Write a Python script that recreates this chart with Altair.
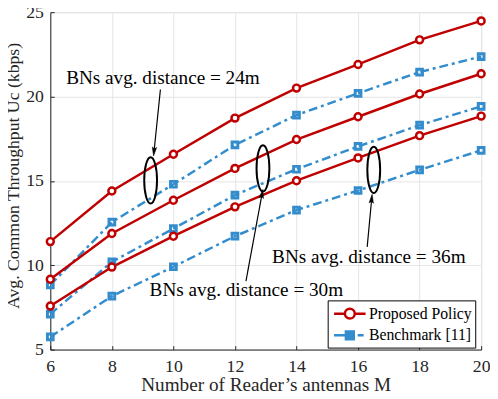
import altair as alt
import pandas as pd

# ---------------- data ----------------
M = [6, 8, 10, 12, 14, 16, 18, 20]
distances = ["24m", "30m", "36m"]
proposed_24 = [11.4, 14.4, 16.58, 18.72, 20.5, 21.9, 23.36, 24.48]
proposed_30 = [9.17, 11.88, 13.85, 15.74, 17.45, 18.8, 20.15, 21.35]
proposed_36 = [7.58, 9.89, 11.72, 13.46, 15.01, 16.36, 17.68, 18.84]
bench_24 = [8.83, 12.55, 14.8, 17.13, 18.9, 20.19, 21.45, 22.37]
bench_30 = [7.1, 10.2, 12.17, 14.16, 15.69, 17.04, 18.3, 19.42]
bench_36 = [5.75, 8.17, 9.91, 11.72, 13.27, 14.43, 15.65, 16.81]
policies = ["Proposed Policy", "Benchmark [11]"]
x_ticks = [6, 8, 10, 12, 14, 16, 18, 20]
y_ticks = [5, 10, 15, 20, 25]

# annotations (data coordinates)
ann_text = ["BNs avg. distance = 24m", "BNs avg. distance = 30m", "BNs avg. distance = 36m"]
ann_text_x = [9.66, 12.37, 16.35]
ann_text_y = [21.12, 8.54, 10.49]
ell_x = [9.26, 12.91, 16.51]
ell_y = [15.03, 15.74, 15.65]
arr_x0 = [9.578, 12.358, 16.297]
arr_y0 = [20.42, 9.06, 11.09]
arr_x1 = [9.374, 12.875, 16.44]
arr_y1 = [16.80, 14.17, 13.88]
arr_angle = [186, 10.9, 5.5]

# ---------------- tables ----------------
rows = []
for d, p_vals, b_vals in zip(distances, [proposed_24, proposed_30, proposed_36],
                             [bench_24, bench_30, bench_36]):
    for m, v in zip(M, p_vals):
        rows.append({"M": m, "value": v, "policy": policies[0], "distance": d})
    for m, v in zip(M, b_vals):
        rows.append({"M": m, "value": v, "policy": policies[1], "distance": d})
df = pd.DataFrame(rows)
ann_df = pd.DataFrame({"x": ann_text_x, "y": ann_text_y, "t": ann_text})
ell_df = pd.DataFrame({"x": ell_x, "y": ell_y})
arr_df = pd.DataFrame({"x0": arr_x0, "y0": arr_y0, "x1": arr_x1, "y1": arr_y1, "a": arr_angle})

# ---------------- style ----------------
RED = "#C00000"
BLUE = "#338CCC"
FONT = "Liberation Serif, DejaVu Serif, serif"
W, H = 438, 343
AXIS_COL = "#262626"

xs = alt.Scale(domain=[6, 20], nice=False)
ys = alt.Scale(domain=[5, 25], nice=False)

x_axis = alt.Axis(values=x_ticks, grid=True, gridColor="#e4e4e4", ticks=False,
                  domainColor=AXIS_COL, labelFont=FONT, labelFontSize=18, labelColor=AXIS_COL,
                  labelPadding=8, labelFlush=False,
                  title="Number of Reader\u2019s antennas M", titleFont=FONT, titleFontSize=19.5,
                  titleFontWeight="normal", titleColor=AXIS_COL, titlePadding=1)
y_axis = alt.Axis(values=y_ticks, grid=True, gridColor="#e4e4e4", ticks=False,
                  domainColor=AXIS_COL, labelFont=FONT, labelFontSize=18, labelColor=AXIS_COL,
                  labelPadding=7, labelFlush=False,
                  title="Avg. Common Throughput \u016Ac (kbps)", titleFont=FONT, titleFontSize=18,
                  titleFontWeight="normal", titleColor=AXIS_COL, titlePadding=3, titleY=166)

ELLIPSE = ("M0,-1C0.153,-1 0.277,-0.552 0.277,0C0.277,0.552 0.153,1 0,1"
           "C-0.153,1 -0.277,0.552 -0.277,0C-0.277,-0.552 -0.153,-1 0,-1Z")
ARROW = "M0,-1L0.4,0.6L0,0.3L-0.4,0.6Z"
LEG_RED = ("M-0.778,0L0.444,0M1.556,0L2.778,0"
           "M1.556,0C1.556,0.307 1.307,0.556 1,0.556C0.693,0.556 0.444,0.307 0.444,0"
           "C0.444,-0.307 0.693,-0.556 1,-0.556C1.307,-0.556 1.556,-0.307 1.556,0Z")
LEG_BLUE = ("M-0.778,0L0.556,0M0.556,-0.444L1.444,-0.444L1.444,0.444L0.556,0.444Z"
            "M1.889,0L2.556,0")

base = alt.Chart(df)

bench_line = base.transform_filter(alt.datum.policy == policies[1]).mark_line(
    color=BLUE, strokeWidth=2.5, strokeDash=[9, 4, 3, 4]
).encode(
    x=alt.X("M:Q", scale=xs, axis=x_axis),
    y=alt.Y("value:Q", scale=ys, axis=y_axis),
    detail="distance:N",
)
bench_pts = base.transform_filter(alt.datum.policy == policies[1]).mark_point(
    shape="square", size=34, filled=False, stroke=BLUE, strokeWidth=3, opacity=1
).encode(
    x=alt.X("M:Q", scale=xs, axis=None),
    y=alt.Y("value:Q", scale=ys, axis=None),
)
prop_line = base.transform_filter(alt.datum.policy == policies[0]).mark_line(
    color=RED, strokeWidth=2.5
).encode(
    x=alt.X("M:Q", scale=xs, axis=None),
    y=alt.Y("value:Q", scale=ys, axis=None),
    detail="distance:N",
)
prop_pts = base.transform_filter(alt.datum.policy == policies[0]).mark_point(
    shape="circle", size=50, filled=True, fill="white", stroke=RED, strokeWidth=2.5, opacity=1
).encode(
    x=alt.X("M:Q", scale=xs, axis=None),
    y=alt.Y("value:Q", scale=ys, axis=None),
)

texts = alt.Chart(ann_df).mark_text(font=FONT, fontSize=19.5, color="black",
                                    align="center", baseline="middle").encode(
    x=alt.X("x:Q", scale=xs, axis=None),
    y=alt.Y("y:Q", scale=ys, axis=None),
    text="t:N",
)
ellipses = alt.Chart(ell_df).mark_point(shape=ELLIPSE, size=2209, filled=False,
                                        stroke="black", strokeWidth=2, opacity=1).encode(
    x=alt.X("x:Q", scale=xs, axis=None),
    y=alt.Y("y:Q", scale=ys, axis=None),
)
arrows = alt.Chart(arr_df).mark_rule(color="black", strokeWidth=1.2).encode(
    x=alt.X("x0:Q", scale=xs, axis=None),
    y=alt.Y("y0:Q", scale=ys, axis=None),
    x2="x1:Q",
    y2="y1:Q",
)
heads = alt.Chart(arr_df).mark_point(shape=ARROW, size=125, filled=True, fill="black",
                                     stroke="black", strokeWidth=0.5, opacity=1).encode(
    x=alt.X("x1:Q", scale=xs, axis=None),
    y=alt.Y("y1:Q", scale=ys, axis=None),
    angle=alt.Angle("a:Q", scale=None),
)

legend = alt.Legend(orient="none", legendX=282, legendY=293, title=None,
                    strokeColor="black", fillColor="white", padding=3, cornerRadius=0,
                    symbolSize=324, symbolStrokeWidth=2.5, symbolOpacity=1,
                    labelFont=FONT, labelFontSize=16, labelColor="black", labelOffset=18,
                    rowPadding=1)
legend_layer = base.transform_filter("false").mark_point(opacity=1, strokeWidth=2.5).encode(
    x=alt.X("M:Q", scale=xs,
            axis=alt.Axis(orient="top", offset=-H, values=x_ticks, labels=False, ticks=True,
                          tickSize=4, tickColor=AXIS_COL, domain=False, grid=False, title=None)),
    y=alt.Y("value:Q", scale=ys,
            axis=alt.Axis(orient="right", offset=-W, values=y_ticks, labels=False, ticks=True,
                          tickSize=4, tickColor=AXIS_COL, domain=False, grid=False, title=None)),
    stroke=alt.Stroke("policy:N", scale=alt.Scale(domain=policies, range=[RED, BLUE]), legend=legend),
    fill=alt.Fill("policy:N", scale=alt.Scale(domain=policies, range=["white", BLUE]), legend=legend),
    shape=alt.Shape("policy:N", scale=alt.Scale(domain=policies, range=[LEG_RED, LEG_BLUE]), legend=legend),
)

chart = alt.layer(
    bench_line, prop_line, bench_pts, prop_pts, ellipses, arrows, heads, texts, legend_layer
).resolve_axis(x="independent", y="independent").properties(
    width=W, height=H,
    autosize=alt.AutoSizeParams(type="none"),
    padding={"left": 43, "top": 1, "right": 9, "bottom": 47},
).configure_view(stroke=None).configure(background="white")

chart.save("out.html", embed_options={"renderer": "svg", "actions": False})
